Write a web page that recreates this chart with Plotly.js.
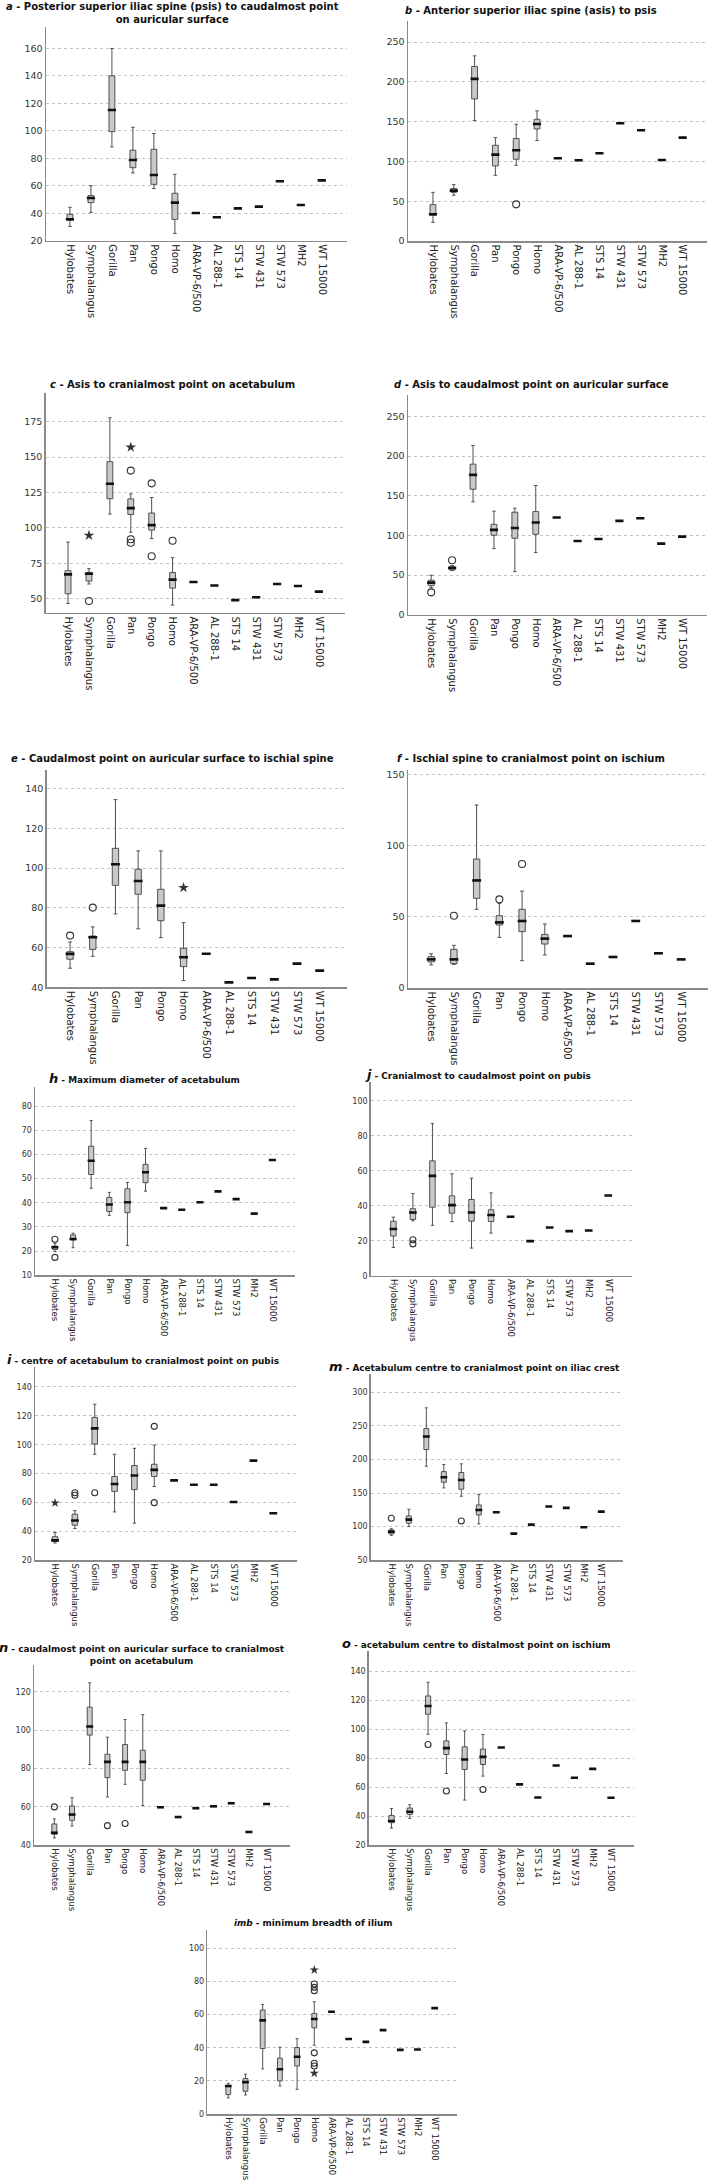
<!DOCTYPE html>
<html><head><meta charset="utf-8">
<script src="https://cdn.plot.ly/plotly-3.0.1.min.js"></script>
<style>html,body{margin:0;padding:0;background:#fff}#chart{width:709px;height:2180px}</style>
</head><body><div id="chart"></div>
<script>
// ---------- categories ----------
const taxa = ['Hylobates','Symphalangus','Gorilla','Pan','Pongo','Homo'];
const fossils7 = ['ARA-VP-6/500','AL 288-1','STS 14','STW 431','STW 573','MH2','WT 15000'];
const fossilsNoMH2 = ['ARA-VP-6/500','AL 288-1','STS 14','STW 431','STW 573','WT 15000'];
const fossilsNo431 = ['ARA-VP-6/500','AL 288-1','STS 14','STW 573','MH2','WT 15000'];

// ---------- panel a ----------
const A_low = [30.4, 40.6, 88.2, 69.3, 57.9, 25.3];
const A_q1  = [34.8, 47.7, 99.3, 73.1, 61.0, 35.5];
const A_med = [35.6, 51.0, 115.0, 78.7, 67.8, 47.7];
const A_q3  = [39.2, 52.8, 139.9, 85.8, 86.5, 54.5];
const A_up  = [44.3, 60.0, 159.8, 102.5, 97.9, 68.3];
const A_fos = [40.1, 37.0, 43.5, 44.8, 63.2, 46.0, 63.9];
const A_circX = [], A_circY = [], A_starX = [], A_starY = [];

// ---------- panel b ----------
const B_low = [23.5, 57.5, 151.4, 82.6, 95.2, 126.3];
const B_q1  = [32.3, 61.2, 178.7, 94.4, 102.8, 140.9];
const B_med = [33.6, 63.3, 203.9, 108.6, 114.1, 147.2];
const B_q3  = [45.7, 65.9, 219.4, 120.4, 128.8, 153.1];
const B_up  = [61.2, 70.9, 232.8, 130.0, 146.8, 163.6];
const B_fos = [104.0, 101.5, 110.3, 148.0, 139.3, 101.9, 130.0];
const B_circX = ['Pongo'], B_circY = [46.1], B_starX = [], B_starY = [];

// ---------- panel c ----------
const C_low = [46.7, 60.4, 109.8, 97.0, 92.5, 45.5];
const C_q1  = [53.5, 62.5, 120.6, 109.5, 98.5, 57.5];
const C_med = [67.2, 67.7, 131.2, 114.0, 102.0, 63.5];
const C_q3  = [69.8, 68.6, 146.8, 120.5, 110.5, 68.5];
const C_up  = [90.0, 71.2, 177.8, 124.0, 121.5, 79.0];
const C_fos = [61.8, 59.4, 49.0, 51.0, 60.4, 59.0, 55.0];
const C_circX = ['Symphalangus','Pan','Pan','Pan','Pongo','Pongo','Homo'];
const C_circY = [48.4, 140.5, 92.0, 89.5, 131.5, 80.0, 91.0];
const C_starX = ['Symphalangus','Pan'], C_starY = [94.7, 157.0];

// ---------- panel d ----------
const D_low = [34.0, 55.6, 142.3, 83.3, 54.3, 78.3];
const D_q1  = [36.6, 56.4, 158.2, 100.2, 96.4, 101.4];
const D_med = [40.4, 58.9, 176.3, 106.9, 109.4, 116.2];
const D_q3  = [43.4, 61.0, 189.8, 114.0, 129.2, 130.0];
const D_up  = [49.7, 61.9, 213.4, 130.5, 134.3, 162.9];
const D_fos = [122.5, 93.0, 95.5, 118.3, 121.6, 89.6, 98.5];
const D_circX = ['Hylobates','Symphalangus'], D_circY = [28.2, 68.6], D_starX = [], D_starY = [];

// ---------- panel e ----------
const E_low = [49.6, 55.6, 76.9, 69.4, 65.0, 43.4];
const E_q1  = [54.1, 59.1, 91.3, 86.8, 73.5, 50.4];
const E_med = [56.8, 65.2, 101.9, 93.5, 81.1, 55.1];
const E_q3  = [57.9, 65.8, 109.9, 99.4, 89.3, 59.6];
const E_up  = [62.8, 70.4, 134.4, 108.6, 108.6, 72.5];
const E_fos = [56.9, 42.5, 44.7, 44.0, 51.9, 48.4];
const E_circX = ['Hylobates','Symphalangus'], E_circY = [66.0, 80.1];
const E_starX = ['Homo'], E_starY = [90.1];

// ---------- panel f ----------
const F_low = [16.2, 16.6, 55.3, 35.6, 19.2, 23.2];
const F_q1  = [18.3, 17.1, 63.0, 44.3, 39.6, 30.9];
const F_med = [20.1, 20.1, 75.6, 46.1, 47.1, 34.7];
const F_q3  = [22.0, 27.2, 90.6, 50.8, 55.3, 37.7];
const F_up  = [24.1, 30.0, 128.6, 59.5, 68.1, 45.0];
const F_fos = [36.5, 17.1, 21.8, 47.1, 24.4, 20.1];
const F_circX = ['Symphalangus','Pan','Pongo'], F_circY = [50.8, 62.3, 87.1], F_starX = [], F_starY = [];

// ---------- panel h ----------
const H_low = [19.8, 21.4, 46.0, 34.8, 22.3, 44.8];
const H_q1  = [20.7, 24.6, 51.7, 36.4, 35.9, 48.3];
const H_med = [21.6, 25.0, 57.4, 39.3, 40.2, 52.6];
const H_q3  = [22.1, 26.7, 63.4, 42.2, 45.8, 55.9];
const H_up  = [23.2, 27.4, 74.0, 44.3, 48.4, 62.5];
const H_fos = [37.8, 37.1, 40.2, 44.7, 41.5, 35.5, 57.7];
const H_circX = ['Hylobates','Hylobates'], H_circY = [24.9, 17.4], H_starX = [], H_starY = [];

// ---------- panel j ----------
const J_low = [16.2, 31.4, 28.8, 30.9, 15.8, 24.4];
const J_q1  = [22.7, 32.2, 39.2, 35.8, 31.2, 31.0];
const J_med = [26.7, 36.2, 57.1, 40.4, 36.2, 34.7];
const J_q3  = [31.2, 38.3, 65.7, 45.7, 43.6, 37.7];
const J_up  = [33.5, 47.0, 87.0, 58.3, 55.8, 47.4];
const J_fos = [33.7, 19.8, 27.6, 25.5, 25.9, 45.9];
const J_circX = ['Symphalangus','Symphalangus'], J_circY = [20.6, 18.2], J_starX = [], J_starY = [];

// ---------- panel i ----------
const I_low = [32.0, 42.0, 93.4, 53.5, 45.7, 71.1];
const I_q1  = [33.3, 44.3, 100.5, 67.7, 68.9, 78.0];
const I_med = [33.8, 47.5, 111.3, 72.8, 78.7, 82.6];
const I_q3  = [36.3, 51.9, 118.9, 78.0, 85.6, 86.5];
const I_up  = [39.3, 54.4, 128.0, 93.4, 97.5, 99.8];
const I_fos = [75.3, 72.3, 72.3, 60.4, 89.0, 52.6];
const I_circX = ['Symphalangus','Symphalangus','Gorilla','Homo','Homo'];
const I_circY = [66.8, 65.0, 66.8, 112.7, 59.9];
const I_starX = ['Hylobates'], I_starY = [59.7];

// ---------- panel m ----------
const M_low = [87.2, 100.1, 189.9, 157.6, 145.2, 104.1];
const M_q1  = [89.2, 105.1, 214.7, 166.1, 155.7, 117.5];
const M_med = [92.7, 110.5, 234.0, 173.5, 169.5, 124.9];
const M_q3  = [95.1, 116.0, 245.9, 181.9, 180.5, 132.3];
const M_up  = [97.0, 125.9, 276.7, 192.4, 193.4, 147.7];
const M_fos = [121.4, 89.7, 103.1, 129.9, 127.9, 99.1, 122.4];
const M_circX = ['Hylobates','Pongo'], M_circY = [112.5, 108.5], M_starX = [], M_starY = [];

// ---------- panel n ----------
const N_low = [43.7, 49.9, 82.0, 65.1, 71.7, 60.6];
const N_q1  = [45.6, 52.9, 97.4, 75.2, 79.0, 73.8];
const N_med = [46.4, 55.9, 101.9, 83.4, 83.4, 83.4];
const N_q3  = [51.0, 60.4, 112.0, 87.4, 92.5, 89.5];
const N_up  = [53.6, 64.7, 124.7, 96.3, 105.5, 108.1];
const N_fos = [59.7, 54.6, 59.2, 60.2, 61.8, 46.8, 61.4];
const N_circX = ['Hylobates','Pan','Pongo'], N_circY = [59.9, 50.1, 51.2], N_starX = [], N_starY = [];

// ---------- panel o ----------
const O_low = [31.7, 38.4, 96.4, 69.3, 51.0, 67.5];
const O_q1  = [35.4, 41.1, 110.2, 82.4, 72.1, 75.5];
const O_med = [36.5, 42.9, 115.9, 86.8, 79.0, 80.8];
const O_q3  = [40.4, 45.5, 122.8, 91.8, 87.7, 86.1];
const O_up  = [45.2, 47.8, 132.2, 104.2, 98.7, 96.2];
const O_fos = [87.2, 61.8, 52.8, 74.8, 66.4, 72.5, 52.6];
const O_circX = ['Gorilla','Pan','Homo'], O_circY = [89.3, 57.2, 58.3], O_starX = [], O_starY = [];

// ---------- panel imb ----------
const IMB_low = [9.7, 11.5, 27.2, 16.9, 14.9, 41.5];
const IMB_q1  = [11.7, 13.7, 39.5, 20.0, 29.0, 52.0];
const IMB_med = [16.9, 19.2, 56.5, 27.0, 34.5, 57.3];
const IMB_q3  = [17.1, 21.4, 62.7, 33.7, 40.1, 60.7];
const IMB_up  = [18.5, 24.0, 66.1, 40.3, 45.4, 67.7];
const IMB_fos = [61.7, 45.2, 43.5, 50.6, 38.7, 38.9, 63.9];
const IMB_circX = ['Homo','Homo','Homo','Homo','Homo','Homo'];
const IMB_circY = [78.4, 76.4, 74.4, 36.9, 30.6, 29.0];
const IMB_starX = ['Homo','Homo'], IMB_starY = [86.9, 24.6];

// ---------- titles ----------
const BIG = '<span style="font-size:13px">';
const T_a = ['<b><i>a</i> - Posterior superior iliac spine (psis) to caudalmost point</b>', '<b>on auricular surface</b>'];
const T_b = ['<b><i>b</i> - Anterior superior iliac spine (asis) to psis</b>'];
const T_c = ['<b><i>c</i> - Asis to cranialmost point on acetabulum</b>'];
const T_d = ['<b><i>d</i> - Asis to caudalmost point on auricular surface</b>'];
const T_e = ['<b><i>e</i> - Caudalmost point on auricular surface to ischial spine</b>'];
const T_f = ['<b><i>f</i> - Ischial spine to cranialmost point on ischium</b>'];
const T_h = ['<b><i>' + BIG + 'h</span></i> - Maximum diameter of acetabulum</b>'];
const T_j = ['<b><i>' + BIG + 'j</span></i> - Cranialmost to caudalmost point on pubis</b>'];
const T_i = ['<b><i>' + BIG + 'i</span></i> - centre of acetabulum to cranialmost point on pubis</b>'];
const T_m = ['<b><i>' + BIG + 'm</span></i> - Acetabulum centre to cranialmost point on iliac crest</b>'];
const T_n = ['<b><i>' + BIG + 'n</span></i> - caudalmost point on auricular surface to cranialmost</b>', '<b>point on acetabulum</b>'];
const T_o = ['<b><i>' + BIG + 'o</span></i> - acetabulum centre to distalmost point on ischium</b>'];
const T_imb = ['<b><i>imb</i> - minimum breadth of ilium</b>'];

// ---------- layout (pixel boxes, ranges) ----------
const W = 709, H = 2180;
const panels = [
  {s:[A_low,A_q1,A_med,A_q3,A_up], fn:fossils7, fv:A_fos, c:[A_circX,A_circY], st:[A_starX,A_starY], t:T_a, tx:172, ty:12.5,
   px:[46,347,27,240.7], yr:[20,175.4], xr:[-1.14,13.2], t0:20, dt:20, big:true},
  {s:[B_low,B_q1,B_med,B_q3,B_up], fn:fossils7, fv:B_fos, c:[B_circX,B_circY], st:[B_starX,B_starY], t:T_b, tx:531, ty:11,
   px:[408,707,20.7,241], yr:[0,277], xr:[-1.2,13.17], t0:0, dt:50, big:true},
  {s:[C_low,C_q1,C_med,C_q3,C_up], fn:fossils7, fv:C_fos, c:[C_circX,C_circY], st:[C_starX,C_starY], t:T_c, tx:172, ty:384,
   px:[45.7,345,393,612.9], yr:[40,195.3], xr:[-1.07,13.25], t0:50, dt:25, big:true},
  {s:[D_low,D_q1,D_med,D_q3,D_up], fn:fossils7, fv:D_fos, c:[D_circX,D_circY], st:[D_starX,D_starY], t:T_d, tx:531, ty:384,
   px:[408,707,395,614.7], yr:[0,277], xr:[-1.11,13.19], t0:0, dt:50, big:true},
  {s:[E_low,E_q1,E_med,E_q3,E_up], fn:fossilsNoMH2, fv:E_fos, c:[E_circX,E_circY], st:[E_starX,E_starY], t:T_e, tx:172, ty:759,
   px:[46.7,346.7,770,987.3], yr:[40,149.3], xr:[-1.03,12.19], t0:40, dt:20, big:true},
  {s:[F_low,F_q1,F_med,F_q3,F_up], fn:fossilsNoMH2, fv:F_fos, c:[F_circX,F_circY], st:[F_starX,F_starY], t:T_f, tx:531, ty:759,
   px:[408,708,770,988], yr:[0,153.2], xr:[-1.02,12.18], t0:0, dt:50, big:true},
  {s:[H_low,H_q1,H_med,H_q3,H_up], fn:fossils7, fv:H_fos, c:[H_circX,H_circY], st:[H_starX,H_starY], t:T_h, tx:144, ty:1079,
   px:[35,295,1086.7,1275.3], yr:[10,88], xr:[-1.1,13.25], t0:10, dt:10, big:false},
  {s:[J_low,J_q1,J_med,J_q3,J_up], fn:fossilsNo431, fv:J_fos, c:[J_circX,J_circY], st:[J_starX,J_starY], t:T_j, tx:478, ty:1074,
   px:[370.7,631.7,1081.7,1275.7], yr:[0,111], xr:[-1.16,12.2], t0:0, dt:20, big:false},
  {s:[I_low,I_q1,I_med,I_q3,I_up], fn:fossilsNo431, fv:I_fos, c:[I_circX,I_circY], st:[I_starX,I_starY], t:T_i, tx:143, ty:1359,
   px:[35,296.7,1366.7,1560.3], yr:[20,154], xr:[-1.01,12.18], t0:20, dt:20, big:false},
  {s:[M_low,M_q1,M_med,M_q3,M_up], fn:fossils7, fv:M_fos, c:[M_circX,M_circY], st:[M_starX,M_starY], t:T_m, tx:474, ty:1366,
   px:[370.7,623.3,1374,1560.3], yr:[50,327], xr:[-1.18,13.26], t0:50, dt:50, big:false},
  {s:[N_low,N_q1,N_med,N_q3,N_up], fn:fossils7, fv:N_fos, c:[N_circX,N_circY], st:[N_starX,N_starY], t:T_n, tx:142, ty:1653,
   px:[34,289.6,1665,1845], yr:[40,134], xr:[-1.15,13.3], t0:40, dt:20, big:false},
  {s:[O_low,O_q1,O_med,O_q3,O_up], fn:fossils7, fv:O_fos, c:[O_circX,O_circY], st:[O_starX,O_starY], t:T_o, tx:477, ty:1643,
   px:[368.8,633.5,1650.7,1845], yr:[20,154], xr:[-1.24,13.23], t0:20, dt:20, big:false},
  {s:[IMB_low,IMB_q1,IMB_med,IMB_q3,IMB_up], fn:fossils7, fv:IMB_fos, c:[IMB_circX,IMB_circY], st:[IMB_starX,IMB_starY], t:T_imb, tx:313.7, ty:1922.7,
   px:[207.3,456.7,1930,2114], yr:[0,111], xr:[-1.22,13.28], t0:0, dt:20, big:false}
];

const FONT = 'DejaVu Sans, Verdana, sans-serif';
const BOXW = 0.28;
const traces = [];
const layout = {
  width: W, height: H, margin: {l:0, r:0, t:0, b:0},
  paper_bgcolor: '#fff', plot_bgcolor: 'rgba(0,0,0,0)',
  showlegend: false, boxmode: 'overlay', annotations: [],
  font: {family: FONT, color: '#333'}
};

panels.forEach((p, k) => {
  const n = k + 1;
  const xa = 'x' + (n === 1 ? '' : n), ya = 'y' + (n === 1 ? '' : n);
  const xk = 'xaxis' + (n === 1 ? '' : n), yk = 'yaxis' + (n === 1 ? '' : n);
  const cats = taxa.concat(p.fn);
  const [x0, x1, yt, yb] = p.px;
  const pxPerCat = (x1 - x0) / (p.xr[1] - p.xr[0]);
  const boxPx = BOXW * pxPerCat;

  traces.push({
    type: 'box', x: taxa, xaxis: xa, yaxis: ya,
    lowerfence: p.s[0], q1: p.s[1], median: p.s[2], q3: p.s[3], upperfence: p.s[4],
    width: BOXW, whiskerwidth: 0.6, boxpoints: false,
    fillcolor: '#c9c9c9', line: {color: '#505050', width: 1}, hoverinfo: 'skip'
  });
  traces.push({
    type: 'scatter', mode: 'markers', xaxis: xa, yaxis: ya,
    x: taxa.concat(p.fn), y: p.s[2].concat(p.fv),
    marker: {symbol: 'line-ew', size: boxPx, line: {width: 2.6, color: '#111'}}, hoverinfo: 'skip'
  });
  if (p.c[0].length) traces.push({
    type: 'scatter', mode: 'markers', xaxis: xa, yaxis: ya, x: p.c[0], y: p.c[1],
    marker: {symbol: 'circle-open', size: p.big ? 7 : 6, color: '#333', line: {width: 1.1, color: '#333'}}, hoverinfo: 'skip'
  });
  if (p.st[0].length) traces.push({
    type: 'scatter', mode: 'markers', xaxis: xa, yaxis: ya, x: p.st[0], y: p.st[1],
    marker: {symbol: 'star', size: p.big ? 8 : 7, color: '#333'}, hoverinfo: 'skip'
  });

  layout[xk] = {
    domain: [x0 / W, x1 / W], anchor: ya, type: 'category',
    categoryorder: 'array', categoryarray: cats, range: p.xr,
    tickangle: 90, tickfont: {size: p.big ? 10 : 8.5, color: '#222', family: FONT},
    showline: true, linecolor: '#8a8a8a', linewidth: 1.5, ticks: '', showgrid: false,
    zeroline: false, fixedrange: true
  };
  layout[yk] = {
    domain: [1 - yb / H, 1 - yt / H], anchor: xa, range: p.yr,
    tick0: p.t0, dtick: p.dt, tickfont: {size: p.big ? 9.5 : 8, color: '#333', family: FONT},
    showline: true, linecolor: '#8a8a8a', linewidth: 1.5, ticks: '',
    showgrid: true, gridcolor: '#c4c4c4', griddash: 'dot', gridwidth: 1,
    zeroline: false, fixedrange: true
  };
  layout.annotations.push({
    xref: 'paper', yref: 'paper', x: p.tx / W, y: 1 - p.ty / H,
    xanchor: 'center', yanchor: 'middle', showarrow: false, align: 'center',
    text: p.t.join('<br>'), font: {family: FONT, size: p.big ? 10 : 8.9, color: '#111'}
  });
});

Plotly.newPlot('chart', traces, layout, {staticPlot: true, displayModeBar: false});
</script>
</body></html>
